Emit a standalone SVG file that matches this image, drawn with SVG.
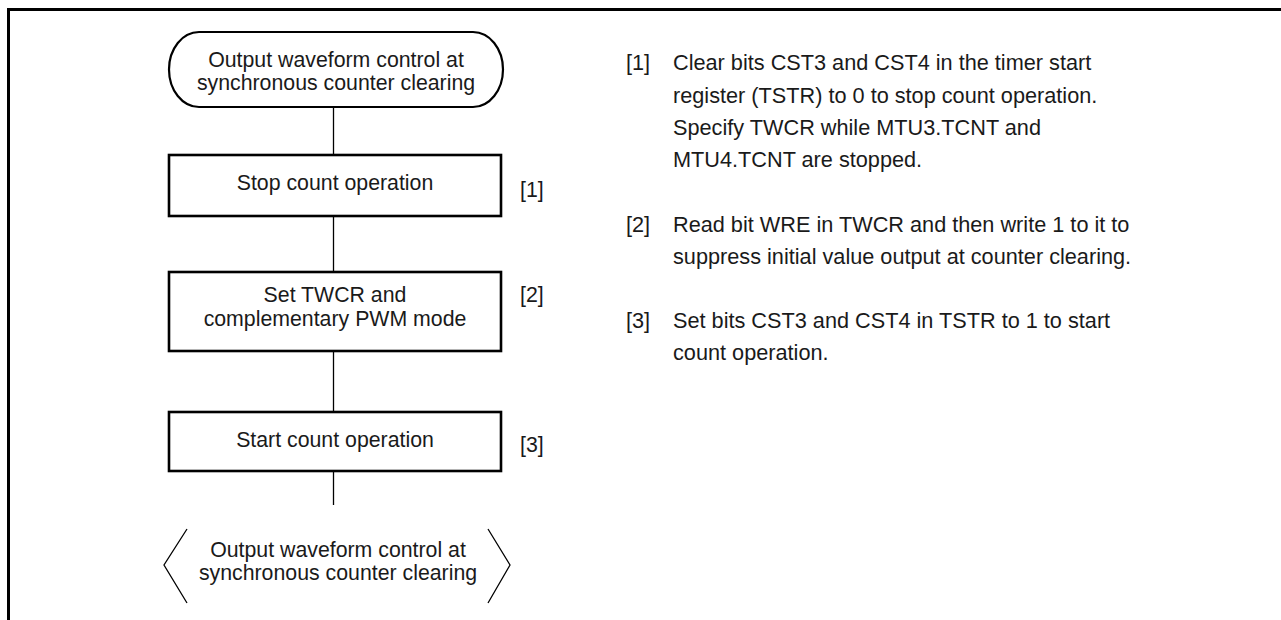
<svg xmlns="http://www.w3.org/2000/svg" width="1281" height="620" viewBox="0 0 1281 620">
<style>
text{font-family:"Liberation Sans",Arial,sans-serif;font-size:21.3px;fill:#1a1a1a}
.c{text-anchor:middle}
.n{font-size:21.7px}
.box{fill:#fff;stroke:#000;stroke-width:2.6}
.term{fill:#fff;stroke:#000;stroke-width:2.2}
.ln{fill:none;stroke:#000;stroke-width:1.3}
</style>
<rect x="0" y="0" width="1281" height="620" fill="#fff"/>
<path d="M8.5 620 V9.5 H1281" fill="none" stroke="#000" stroke-width="3"/>
<g id="connectors">
<line class="ln" x1="333.5" y1="107" x2="333.5" y2="155"/>
<line class="ln" x1="333.5" y1="216" x2="333.5" y2="272"/>
<line class="ln" x1="333.5" y1="351" x2="333.5" y2="412"/>
<line class="ln" x1="333.5" y1="471" x2="333.5" y2="505"/>
</g>
<g id="start">
<rect class="term" x="169" y="32" width="334" height="75" rx="30" ry="37.5"/>
<text class="c" x="336" y="66.5">Output waveform control at</text>
<text class="c" x="336" y="89.5">synchronous counter clearing</text>
</g>
<g id="step1">
<rect class="box" x="169" y="155" width="332" height="61"/>
<text class="c" x="335" y="190">Stop count operation</text>
<text x="520" y="197">[1]</text>
</g>
<g id="step2">
<rect class="box" x="169" y="272" width="332" height="79"/>
<text class="c" x="335" y="302">Set TWCR and</text>
<text class="c" x="335" y="326">complementary PWM mode</text>
<text x="520" y="302">[2]</text>
</g>
<g id="step3">
<rect class="box" x="169" y="412" width="332" height="59"/>
<text class="c" x="335" y="447">Start count operation</text>
<text x="520" y="452">[3]</text>
</g>
<g id="end">
<polyline class="ln" points="187,529 164,565 187,603"/>
<polyline class="ln" points="488,529 510,565 488,603"/>
<text class="c" x="338" y="556.5">Output waveform control at</text>
<text class="c" x="338" y="580">synchronous counter clearing</text>
</g>
<g id="notes">
<text class="n" x="626" y="70">[1]</text>
<text class="n" x="673" y="70">Clear bits CST3 and CST4 in the timer start</text>
<text class="n" x="673" y="102.5">register (TSTR) to 0 to stop count operation.</text>
<text class="n" x="673" y="135">Specify TWCR while MTU3.TCNT and</text>
<text class="n" x="673" y="167.3">MTU4.TCNT are stopped.</text>
<text class="n" x="626" y="231.5">[2]</text>
<text class="n" x="673" y="231.5">Read bit WRE in TWCR and then write 1 to it to</text>
<text class="n" x="673" y="263.5">suppress initial value output at counter clearing.</text>
<text class="n" x="626" y="327.5">[3]</text>
<text class="n" x="673" y="327.5">Set bits CST3 and CST4 in TSTR to 1 to start</text>
<text class="n" x="673" y="359.5">count operation.</text>
</g>
</svg>
